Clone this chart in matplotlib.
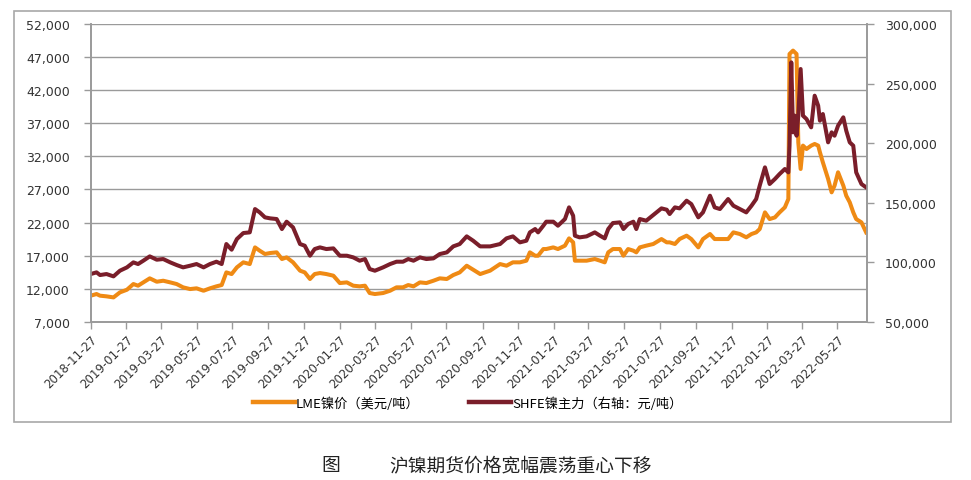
import numpy as np
import pandas as pd
import matplotlib
matplotlib.use('Agg')
import matplotlib.pyplot as plt
import matplotlib.ticker as mticker
from matplotlib.patches import Rectangle
from matplotlib.lines import Line2D

plt.rcParams['font.family'] = ['DejaVu Sans', 'Noto Sans CJK SC']

start = '2018-11-27'
# days since start
days = [0, 10, 16, 27, 39, 50, 62, 73, 81, 90,
        101, 113, 124, 136, 147, 158, 170, 181, 193, 204,
        215, 224, 232, 241, 250, 261, 272, 281, 289, 298,
        307, 318, 327, 335, 346, 358, 366, 375, 383, 392,
        403, 415, 426, 438, 449, 460, 469, 477, 486, 500,
        512, 523, 534, 543, 552, 563, 574, 586, 597, 609,
        620, 631, 643, 654, 666,
        683, 700, 711, 722, 734, 745, 751, 760, 765, 774,
        779, 791, 799, 811, 818, 825, 828, 836, 848, 862,
        871, 879, 885, 893, 905, 911, 919, 928, 933, 939,
        950, 962, 976, 985, 990, 999, 1007, 1019, 1027, 1039,
        1047, 1059, 1067, 1076, 1090, 1099, 1110, 1121, 1130, 1138,
        1144, 1153, 1161, 1170, 1178, 1187, 1193, 1195, 1198, 1201,
        1204, 1207, 1210, 1214, 1218, 1224, 1232, 1238, 1244, 1247,
        1252, 1261, 1267, 1272, 1278, 1287, 1292, 1298, 1304, 1309,
        1318, 1326]

# LME nickel, USD/t (left axis)
lme = [10940, 11190, 10940, 10840, 10680, 11440, 11840, 12700, 12450, 12950,
       13560, 13050, 13200, 12950, 12700, 12200, 11940, 12050, 11690, 12050,
       12350, 12550, 14460, 14210, 15220, 15980, 15720, 18240, 17740, 17240,
       17390, 17490, 16480, 16730, 15980, 14720, 14460, 13460, 14210, 14360,
       14210, 13960, 12850, 12950, 12450, 12350, 12450, 11340, 11190, 11340,
       11690, 12200, 12200, 12550, 12350, 12950, 12850, 13200, 13560, 13460,
       14060, 14460, 15470, 14870, 14210,
       14720, 15720, 15470, 15980, 15980, 16230, 17490, 16980, 16980, 17990,
       17990, 18240, 17990, 18500, 19600, 19000, 16230, 16230, 16230, 16480,
       16230, 15980, 17490, 17990, 17990, 16980, 17990, 17740, 17490, 18240,
       18500, 18750, 19500, 19000, 19000, 18750, 19500, 20010, 19500, 18240,
       19500, 20260, 19500, 19500, 19500, 20510, 20260, 19760, 20260, 20510,
       21010, 23530, 22520, 22770, 23530, 24290, 25550, 47470, 47720, 47980,
       47720, 47470, 34120, 30090, 33620, 33110, 33620, 33870, 33620, 32610,
       31100, 28580, 26560, 27570, 29590, 27570, 26050, 25050, 23530, 22520,
       22020, 20510]

# SHFE nickel main contract, CNY/t (right axis)
shfe = [90060, 91460, 89220, 90060, 88100, 92860, 95660, 99860, 98460, 101260,
        104890, 102100, 102660, 99860, 97620, 95660, 97060, 98460, 95660, 98460,
        100420, 98460, 115250, 110490, 119450, 124490, 125050, 144640, 141840, 137650,
        136810, 136250, 127850, 134010, 129250, 115250, 113850, 105450, 111050, 112450,
        111050, 111610, 105450, 105450, 104050, 101260, 102660, 94260, 92860, 95660,
        98460, 100420, 100420, 102660, 101260, 104050, 102660, 103210, 106850, 108250,
        113290, 115250, 121690, 118050, 113290,
        113290, 115250, 120010, 121690, 116650, 118050, 125050, 127850, 125050, 130650,
        134010, 134010, 130650, 136250, 146040, 139050, 122250, 120850, 121690, 125050,
        122250, 120010, 127850, 132890, 133450, 127850, 132050, 134010, 127850, 136250,
        134850, 139610, 145200, 144080, 140440, 146040, 145200, 151640, 148840, 137650,
        141840, 155840, 146040, 144640, 153040, 147440, 144640, 141840, 147440, 153040,
        164240, 179640, 165640, 169840, 174040, 178240, 175440, 197830, 267810, 209030,
        223020, 206230, 223020, 262220, 223020, 220230, 213230, 239820, 231420, 218830,
        224430, 200630, 209030, 206230, 214630, 221630, 210430, 200630, 197830, 175440,
        165640, 162840]

lme_label = 'LME镍价（美元/吨）'
shfe_label = 'SHFE镍主力（右轴：元/吨）'
caption = '沪镍期货价格宽幅震荡重心下移'

orange = '#EF8A14'
maroon = '#7A1E2A'
grey = '#9A9A9A'

t0 = pd.Timestamp(start)
dates = t0 + pd.to_timedelta(days, unit='D')
xticks = pd.date_range(start, '2022-05-27', freq=pd.DateOffset(months=2))

fig = plt.figure(figsize=(9.71, 4.81), dpi=100)
ax = fig.add_axes([0.0934, 0.329, 0.7992, 0.619])
ax2 = ax.twinx()

ax.plot(dates, lme, color=orange, lw=2.9, solid_joinstyle='round')
ax2.plot(dates, shfe, color=maroon, lw=2.9, solid_joinstyle='round')

ax.set_xlim(t0, t0 + pd.Timedelta(days=1327))
ax.set_ylim(7000, 52000)
ax.set_yticks(np.arange(7000, 52001, 5000))
ax2.set_ylim(50000, 300000)
ax2.set_yticks(np.arange(50000, 300001, 50000))
fmt = mticker.FuncFormatter(lambda v, p: '{:,.0f}'.format(v))
ax.yaxis.set_major_formatter(fmt)
ax2.yaxis.set_major_formatter(fmt)

ax.set_xticks(xticks)
ax.set_xticklabels([d.strftime('%Y-%m-%d') for d in xticks], rotation=45,
                   ha='right', rotation_mode='anchor', fontsize=8.5, color='#333333')

ax.yaxis.grid(True, color=grey, lw=1)
ax.set_axisbelow(True)

for a in (ax, ax2):
    a.spines['top'].set_visible(False)
    for s in ('left', 'right', 'bottom'):
        a.spines[s].set_color(grey)
        a.spines[s].set_linewidth(1.2)
    a.tick_params(axis='both', colors=grey, labelcolor='#333333', length=5, width=1)
ax.tick_params(axis='y', labelsize=9, pad=10)
ax2.tick_params(axis='y', labelsize=9, pad=8)
ax.tick_params(axis='x', pad=3)

handles = [Line2D([], [], color=orange, lw=3.2), Line2D([], [], color=maroon, lw=3.2)]
fig.legend(handles, [lme_label, shfe_label], loc='center', ncol=2,
           bbox_to_anchor=(0.4815, 0.16), frameon=False, handlelength=3.2,
           handletextpad=0.1, columnspacing=3.7,
           prop={'family': ['Noto Sans CJK SC'], 'size': 9.5})

fig.add_artist(Rectangle((14 / 971, 1 - 423 / 481), 937 / 971, 411 / 481,
                         transform=fig.transFigure, fill=False,
                         edgecolor='#A8A8A8', lw=1.2))

fig.text(331 / 971, 1 - 466 / 481, '图', ha='center', va='center',
         family=['Noto Sans CJK SC'], fontsize=13.5, color='#222222')
fig.text(521 / 971, 1 - 466 / 481, caption, ha='center', va='center',
         family=['Noto Sans CJK SC'], fontsize=13.5, color='#222222')

fig.savefig('out.png', dpi=100)
